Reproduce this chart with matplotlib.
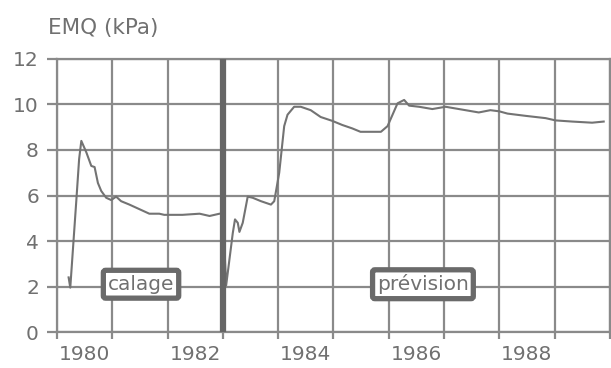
import matplotlib
matplotlib.use('Agg')
import matplotlib.pyplot as plt

# EMQ (kPa) over time, calibration period then forecast period
years = [1980.21, 1980.24, 1980.35, 1980.40, 1980.44, 1980.53, 1980.62, 1980.68, 1980.74, 1980.80,
         1980.89, 1980.98, 1981.07, 1981.16, 1981.31, 1981.49, 1981.67, 1981.85, 1981.94, 1982.27,
         1982.58, 1982.76, 1982.94, 1983.00, 1983.06, 1983.18, 1983.22, 1983.27, 1983.30, 1983.36,
         1983.45, 1983.54, 1983.69, 1983.87, 1983.93, 1984.02, 1984.11, 1984.17, 1984.29, 1984.41,
         1984.59, 1984.77, 1984.98, 1985.16, 1985.34, 1985.49, 1985.86, 1985.98, 1986.07, 1986.16,
         1986.28, 1986.37, 1986.55, 1986.79, 1987.03, 1987.27, 1987.63, 1987.84, 1988.00, 1988.15,
         1988.48, 1988.84, 1989.02, 1989.32, 1989.68, 1989.89]
emq = [2.4, 1.95, 5.8, 7.6, 8.4, 7.9, 7.3, 7.25, 6.55, 6.2,
       5.9, 5.8, 5.95, 5.75, 5.6, 5.4, 5.2, 5.2, 5.15, 5.15,
       5.2, 5.1, 5.2, 5.2, 2.05, 4.35, 4.95, 4.8, 4.4, 4.8,
       5.95, 5.9, 5.75, 5.6, 5.75, 7.0, 9.05, 9.55, 9.9, 9.9,
       9.75, 9.45, 9.28, 9.1, 8.95, 8.8, 8.8, 9.05, 9.55, 10.05,
       10.2, 9.95, 9.9, 9.8, 9.9, 9.8, 9.65, 9.75, 9.7, 9.6,
       9.5, 9.4, 9.3, 9.25, 9.2, 9.25]

yearTicks = list(range(1980, 1991))
yearLabels = ['1980', '1982', '1984', '1986', '1988']
yTicks = [0, 2, 4, 6, 8, 10, 12]
splitYear = 1983
periodLabels = [('calage', 1981.52, 2.1), ('prévision', 1986.62, 2.1)]

GREY = '#707070'
GRID = '#8a8a8a'

fig = plt.figure(figsize=(6.11, 3.68), dpi=100)
ax = fig.add_axes([0.0933, 0.0978, 0.9047, 0.7419])

ax.plot(years, emq, color='#737373', linewidth=1.5, zorder=3)

# split between calibration and forecast
ax.axvline(splitYear, color='#666666', linewidth=4.5, zorder=4)

ax.set_xlim(1980, 1990)
ax.set_ylim(0, 12)

ax.set_xticks(yearTicks)
ax.set_xticklabels([])
ax.set_xticks([int(l) + 0.5 for l in yearLabels], labels=yearLabels, minor=True)
ax.set_yticks(yTicks)

ax.grid(True, which='major', color=GRID, linewidth=1.6, zorder=1)
ax.tick_params(axis='x', which='major', direction='out', length=5, width=1.6, color=GRID)
ax.tick_params(axis='x', which='minor', length=0, pad=9, labelsize=14.5, labelcolor=GREY)
ax.tick_params(axis='y', direction='out', length=7, width=1.6, color=GRID,
               pad=6, labelsize=14.5, labelcolor=GREY)
for s in ax.spines.values():
    s.set_color(GRID)
    s.set_linewidth(1.6)

for txt, x, y in periodLabels:
    ax.text(x, y, txt, ha='center', va='center', fontsize=14.5, color=GREY, zorder=5,
            bbox=dict(boxstyle='round,pad=0.22,rounding_size=0.12', facecolor='white',
                      edgecolor='#6a6a6a', linewidth=3.8))

fig.text(0.079, 0.925, 'EMQ (kPa)', fontsize=15.5, color=GREY, ha='left', va='center')

fig.savefig('out.png', dpi=100)
